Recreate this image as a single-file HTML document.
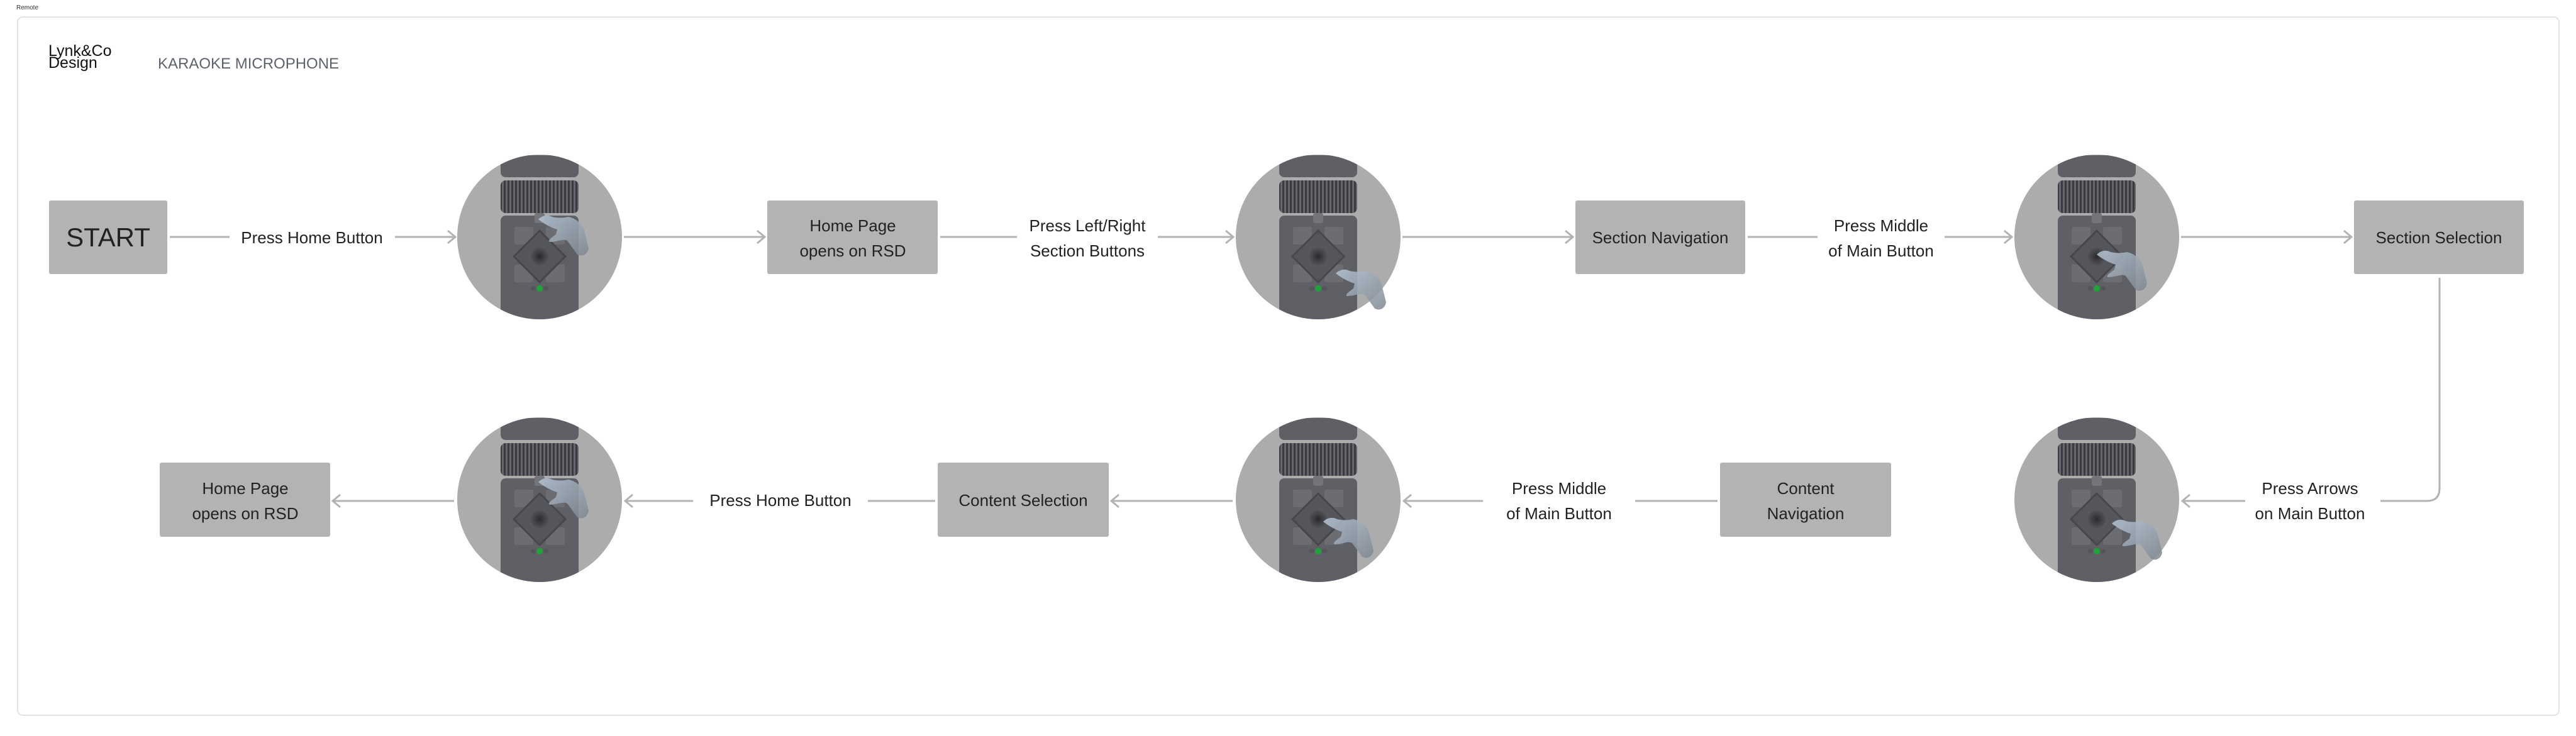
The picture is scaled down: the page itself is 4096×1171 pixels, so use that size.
<!DOCTYPE html>
<html><head><meta charset="utf-8"><style>
html,body{margin:0;padding:0;background:#fff;}
body{width:4096px;height:1166px;overflow:hidden;}
svg text{font-family:"Liberation Sans",sans-serif;}
</style></head><body>
<svg width="4096" height="1166" viewBox="0 0 4096 1166" xmlns="http://www.w3.org/2000/svg">
<defs>
  <clipPath id="cc"><circle cx="0" cy="0" r="131"/></clipPath>
  <radialGradient id="rg" cx="0.5" cy="0.5" r="0.5">
    <stop offset="0" stop-color="#2a2a2e"/><stop offset="1" stop-color="#5a5b60"/>
  </radialGradient>
  <linearGradient id="hg" x1="0" y1="0" x2="1" y2="1">
    <stop offset="0" stop-color="#b8c8d8"/><stop offset="1" stop-color="#7d8590"/>
  </linearGradient>
  <pattern id="gr" width="6" height="10" patternUnits="userSpaceOnUse">
    <rect width="6" height="10" fill="#3a3b40"/><rect width="3" height="10" fill="#66676c"/>
  </pattern>
  <g id="mic">
    <circle cx="0" cy="0" r="131" fill="#acacac"/>
    <g clip-path="url(#cc)">
      <rect x="-62" y="-130" width="124" height="35" rx="8" fill="#5f6065"/>
      <rect x="-62" y="-90" width="124" height="52" rx="8" fill="url(#gr)"/>
      <rect x="-62" y="-34" width="124" height="180" rx="8" fill="#5f6065"/>
    </g>
    <rect x="-8" y="-38" width="16" height="16" rx="3" fill="#74757a"/>
    <rect x="-40" y="-16" width="30" height="28" rx="3" fill="#6c6d72"/>
    <rect x="10" y="-16" width="30" height="28" rx="3" fill="#6c6d72"/>
    <rect x="-40" y="44" width="30" height="28" rx="3" fill="#6c6d72"/>
    <rect x="10" y="44" width="30" height="28" rx="3" fill="#6c6d72"/>
    <path d="M0,-10 L41,31 L0,72 L-41,31 Z" fill="#55565b" stroke="#46474c" stroke-width="3"/>
    <circle cx="0" cy="31" r="17" fill="url(#rg)"/>
    <circle cx="-10" cy="82" r="4" fill="#55565b"/>
    <circle cx="0" cy="82" r="5" fill="#1fa33a"/>
    <circle cx="10" cy="82" r="4" fill="#55565b"/>
  </g>
  <g id="hand">
    <path d="M0,0 C10,8 22,14 30,16 L28,24 C20,30 14,34 18,36 C30,36 40,30 46,34 L62,56 C70,60 78,56 80,46 L72,14 C66,4 58,-2 48,-4 C40,-2 30,-2 22,-4 C14,-8 6,-6 0,0 Z" fill="url(#hg)" opacity="0.85"/>
  </g>
  <marker id="ah" markerWidth="16" markerHeight="24" refX="14" refY="12" orient="auto" markerUnits="userSpaceOnUse">
    <path d="M2,2 L14,12 L2,22" fill="none" stroke="#b3b3b3" stroke-width="3"/>
  </marker>
</defs>

<text x="26" y="15" font-size="10" fill="#333">Remote</text>
<rect x="28" y="27" width="4041" height="1111" rx="8" fill="none" stroke="#e3e3e3" stroke-width="2"/>
<text x="77" y="89" font-size="25" fill="#111">Lynk&amp;Co</text>
<text x="77" y="108" font-size="25" fill="#111">Design</text>
<text x="251" y="109" font-size="24" fill="#5d636e">KARAOKE MICROPHONE</text>

<g fill="#b3b3b3">
  <rect x="78" y="319" width="188" height="117" rx="3"/>
  <rect x="1220" y="319" width="271" height="117" rx="3"/>
  <rect x="2505" y="319" width="270" height="117" rx="3"/>
  <rect x="3743" y="319" width="270" height="117" rx="3"/>
  <rect x="254" y="736" width="271" height="118" rx="3"/>
  <rect x="1491" y="736" width="272" height="118" rx="3"/>
  <rect x="2735" y="736" width="272" height="118" rx="3"/>
</g>
<g fill="#222" font-size="26" text-anchor="middle">
  <text x="172" y="392" font-size="42">START</text>
  <text x="1356" y="368">Home Page</text><text x="1356" y="408">opens on RSD</text>
  <text x="2640" y="387">Section Navigation</text>
  <text x="3878" y="387">Section Selection</text>
  <text x="390" y="786">Home Page</text><text x="390" y="826">opens on RSD</text>
  <text x="1627" y="805">Content Selection</text>
  <text x="2871" y="786">Content</text><text x="2871" y="826">Navigation</text>
  <text x="496" y="387">Press Home Button</text>
  <text x="1729" y="368">Press Left/Right</text><text x="1729" y="408">Section Buttons</text>
  <text x="2991" y="368">Press Middle</text><text x="2991" y="408">of Main Button</text>
  <text x="3673" y="786">Press Arrows</text><text x="3673" y="826">on Main Button</text>
  <text x="2479" y="786">Press Middle</text><text x="2479" y="826">of Main Button</text>
  <text x="1241" y="805">Press Home Button</text>
</g>

<g stroke="#b3b3b3" stroke-width="3" fill="none">
  <line x1="270" y1="377" x2="365" y2="377"/>
  <line x1="628" y1="377" x2="724" y2="377" marker-end="url(#ah)"/>
  <line x1="992" y1="377" x2="1216" y2="377" marker-end="url(#ah)"/>
  <line x1="1495" y1="377" x2="1617" y2="377"/>
  <line x1="1841" y1="377" x2="1961" y2="377" marker-end="url(#ah)"/>
  <line x1="2230" y1="377" x2="2501" y2="377" marker-end="url(#ah)"/>
  <line x1="2779" y1="377" x2="2890" y2="377"/>
  <line x1="3092" y1="377" x2="3199" y2="377" marker-end="url(#ah)"/>
  <line x1="3468" y1="377" x2="3739" y2="377" marker-end="url(#ah)"/>
  <path d="M3879,442 L3879,777 Q3879,797 3859,797 L3785,797"/>
  <line x1="3570" y1="797" x2="3470" y2="797" marker-end="url(#ah)"/>
  <line x1="2731" y1="797" x2="2600" y2="797"/>
  <line x1="2358" y1="797" x2="2232" y2="797" marker-end="url(#ah)"/>
  <line x1="1960" y1="797" x2="1767" y2="797" marker-end="url(#ah)"/>
  <line x1="1487" y1="797" x2="1380" y2="797"/>
  <line x1="1102" y1="797" x2="994" y2="797" marker-end="url(#ah)"/>
  <line x1="722" y1="797" x2="529" y2="797" marker-end="url(#ah)"/>
</g>

<g transform="translate(858,377)"><use href="#mic"/><use href="#hand" transform="translate(-2,-28)"/></g>
<g transform="translate(2096,377)"><use href="#mic"/><use href="#hand" transform="translate(28,58)"/></g>
<g transform="translate(3334,377)"><use href="#mic"/><use href="#hand" transform="translate(0,28)"/></g>
<g transform="translate(858,795)"><use href="#mic"/><use href="#hand" transform="translate(-2,-28)"/></g>
<g transform="translate(2096,795)"><use href="#mic"/><use href="#hand" transform="translate(8,35)"/></g>
<g transform="translate(3334,795)"><use href="#mic"/><use href="#hand" transform="translate(24,38)"/></g>
</svg>
</body></html>
